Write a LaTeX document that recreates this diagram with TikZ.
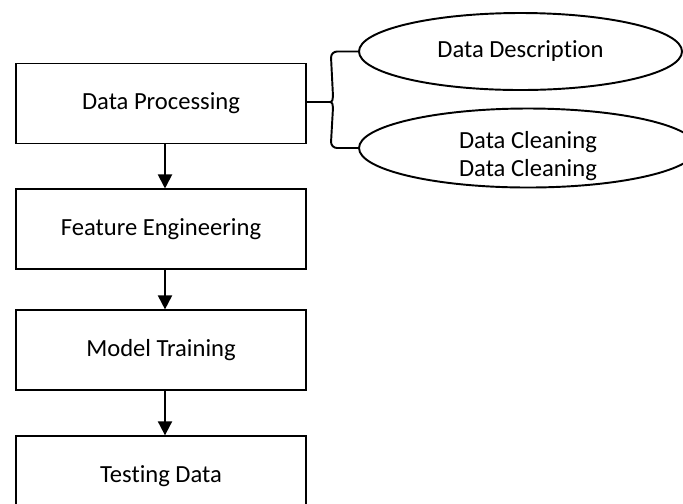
\documentclass[tikz,border=0pt]{standalone}
\usepackage{fontspec}
\setmainfont{Carlito}[Ligatures=NoCommon]
\usepackage{tikz}
\usetikzlibrary{shapes.geometric,arrows,arrows.meta,positioning,calc}

\tikzset{
  etape/.style={rectangle, minimum width=5.8cm, minimum height=1.6cm, draw=black, line width=1.1pt, inner sep=0pt},
  bulle/.style={ellipse, draw=black, line width=1.1pt, inner sep=0pt, align=center},
  fleche/.style={line width=1.1pt, -{Triangle[width=0.28cm,length=0.28cm]}}
}

\begin{document}
\begin{tikzpicture}[font=\fontsize{14}{16}\selectfont]

\useasboundingbox (0,0) rectangle (13.66,-10.06);
\clip (0,0) rectangle (13.66,-10.06);

% etapes
\node[etape] (p1) at (3.22,-2.07) {Data Processing};
\node[etape, below=0.88cm of p1] (p2) {Feature Engineering};
\node[etape, below=0.78cm of p2] (p3) {Model Training};
\node[etape, below=0.88cm of p3] (p4) {Testing Data};

\draw[fleche] ([xshift=0.08cm]p1.south) -- ([xshift=0.08cm]p2.north);
\draw[fleche] ([xshift=0.08cm]p2.south) -- ([xshift=0.08cm]p3.north);
\draw[fleche] ([xshift=0.08cm]p3.south) -- ([xshift=0.08cm]p4.north);

% sous-etapes
\node[bulle, minimum width=6.46cm, minimum height=1.54cm] (e1) at (10.41,-1.03) {Data Description};
\node[bulle, minimum width=6.76cm, minimum height=1.58cm] (e2) at (10.56,-2.96) {\raisebox{-0.3cm}[0.5cm][0.5cm]{\begin{tabular}{@{}c@{}}Data Cleaning\\Data Cleaning\end{tabular}}};

% accolade
\coordinate (tip) at ($(p1.east)+(0.46,0.03)$);
\draw[line width=1.1pt] (p1.east |- tip) -- (tip);
\draw[line width=1.1pt] (e1.west) -- ++(-0.42,0) to[out=180,in=90] ++(-0.12,-0.12)
  -- ($(tip)+(0.06,0.12)$) to[out=-90,in=0] (tip)
  to[out=0,in=90] ($(tip)+(0.06,-0.12)$)
  -- ($(e2.west)+(-0.54,0.12)$) to[out=-90,in=180] ++(0.12,-0.12) -- (e2.west);

\end{tikzpicture}
\end{document}
